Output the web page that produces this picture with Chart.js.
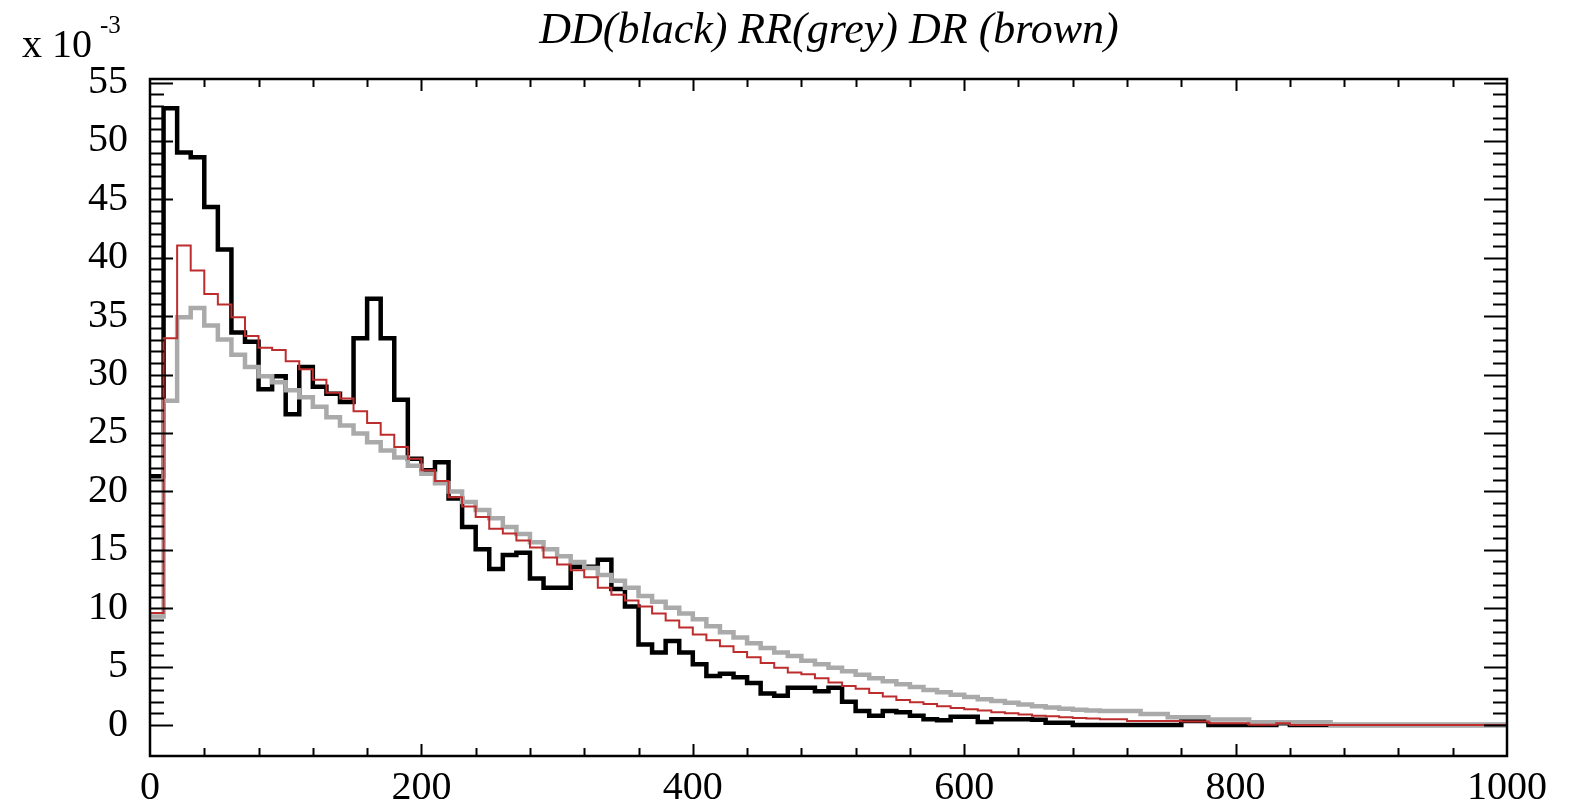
<!DOCTYPE html>
<html>
<head>
<meta charset="utf-8">
<title>DD RR DR</title>
<script src="https://cdn.jsdelivr.net/npm/chart.js@4.4.0/dist/chart.umd.min.js"></script>
<style>
    html, body { margin: 0; padding: 0; background: #ffffff; }
    #wrap { width: 1588px; height: 806px; }
</style>
</head>
<body>
<div id="wrap"><canvas id="histo" width="1588" height="806"></canvas></div>
<script>
// bin width and axis labels
const binWidth = 10;
const xTickVals = [0, 200, 400, 600, 800, 1000];
const yTickVals = [0, 5, 10, 15, 20, 25, 30, 35, 40, 45, 50, 55];

// DD (black), values in units of 10^-3, one per bin of width 10
const ddValues = [
    21.3, 52.8, 49.0, 48.6, 44.35, 40.7, 33.6, 32.8, 28.75, 29.85,
    26.6, 30.65, 28.95, 28.35, 27.65, 33.1, 36.5, 33.1, 27.85, 22.8,
    21.8, 22.5, 19.4, 16.95, 15.05, 13.35, 14.55, 14.75, 12.55, 11.75,
    11.75, 13.55, 13.55, 14.15, 11.65, 10.15, 6.9, 6.2, 7.2, 6.2,
    5.2, 4.2, 4.4, 4.1, 3.6, 2.7, 2.5, 3.2, 3.2, 2.9,
    3.2, 2.0, 1.2, 0.8, 1.2, 1.1, 0.8, 0.5, 0.4, 0.7,
    0.7, 0.25, 0.5, 0.5, 0.5, 0.45, 0.2, 0.2, 0, 0,
    0, 0, 0, 0, 0, 0, 0.35, 0.35, 0, 0,
    0, 0, 0, 0.15, 0, 0, 0, 0, 0, 0,
    0, 0, 0, 0, 0, 0, 0, 0, 0, 0
];
// RR (grey)
const rrValues = [
    9.3, 27.75, 34.9, 35.7, 34.2, 33.0, 31.7, 30.65, 29.85, 29.35,
    28.65, 28.05, 27.25, 26.35, 25.65, 24.95, 24.2, 23.5, 22.9, 22.2,
    21.5, 20.7, 20.0, 19.1, 18.4, 17.7, 16.95, 16.35, 15.65, 15.05,
    14.45, 13.95, 13.45, 12.85, 12.35, 11.75, 11.05, 10.55, 10.05, 9.55,
    9.05, 8.45, 7.95, 7.5, 7.0, 6.6, 6.2, 5.9, 5.5, 5.2,
    4.9, 4.6, 4.3, 4.0, 3.75, 3.5, 3.25, 3.0, 2.8, 2.6,
    2.4, 2.2, 2.05, 1.9, 1.75, 1.6, 1.5, 1.4, 1.3, 1.25,
    1.2, 1.2, 1.2, 0.95, 0.95, 0.67, 0.67, 0.67, 0.47, 0.47,
    0.47, 0.24, 0.24, 0.24, 0.24, 0.24, 0.24, 0, 0, 0,
    0, 0, 0, 0, 0, 0, 0, 0, 0, 0
];
// DR (brown)
const drValues = [
    9.6, 33.1, 41.05, 38.9, 36.9, 36.0, 34.9, 33.3, 32.3, 32.1,
    31.15, 30.45, 29.55, 28.45, 27.95, 26.85, 25.85, 24.85, 23.8, 22.8,
    21.8, 20.9, 19.5, 18.7, 17.8, 16.8, 16.4, 15.8, 15.2, 14.35,
    13.75, 13.25, 12.65, 11.75, 11.15, 10.65, 10.15, 9.55, 8.95, 8.35,
    7.75, 7.25, 6.75, 6.25, 5.8, 5.3, 4.9, 4.5, 4.35, 4.0,
    3.65, 3.35, 3.1, 2.75, 2.45, 2.15, 1.95, 1.8, 1.6, 1.45,
    1.35, 1.25, 1.1, 1.0, 0.9, 0.8, 0.75, 0.67, 0.6, 0.55,
    0.5, 0.5, 0.35, 0.35, 0.35, 0.35, 0.3, 0.3, 0.15, 0.15,
    0.15, 0.03, 0.03, 0.15, 0, 0, 0, 0, 0, 0,
    0, 0, 0, 0, 0, 0, 0, 0, 0, 0
];

const serif = '"Liberation Serif", "Times New Roman", serif';

// left edge of each bin + closing point so the last bin gets drawn
function toSteps(values) {
    const pts = values.map((v, i) => ({ x: i * binWidth, y: v }));
    pts.push({ x: values.length * binWidth, y: values[values.length - 1] });
    return pts;
}

// ROOT style frame, inside ticks, title and exponent
const rootFrame = {
    id: 'rootFrame',
    afterDatasetsDraw(chart) {
        const ctx = chart.ctx;
        const a = chart.chartArea;
        const xs = chart.scales.x, ys = chart.scales.y;
        ctx.save();
        ctx.strokeStyle = '#000';
        ctx.lineWidth = 2;
        ctx.beginPath();
        for (let v = 0; v <= 55; v++) {
            const y = Math.round(ys.getPixelForValue(v)) + 0.5;
            const len = v % 5 === 0 ? 23 : 14;
            ctx.moveTo(a.left, y); ctx.lineTo(a.left + len, y);
            ctx.moveTo(a.right, y); ctx.lineTo(a.right - len, y);
        }
        for (let v = 40; v < 1000; v += 40) {
            const x = Math.round(xs.getPixelForValue(v)) + 0.5;
            const len = v % 200 === 0 ? 12 : 8;
            ctx.moveTo(x, a.bottom); ctx.lineTo(x, a.bottom - len);
            ctx.moveTo(x, a.top); ctx.lineTo(x, a.top + len);
        }
        ctx.stroke();
        ctx.lineWidth = 2.5;
        ctx.strokeRect(a.left, a.top, a.right - a.left, a.bottom - a.top);

        ctx.fillStyle = '#000';
        ctx.textBaseline = 'alphabetic';
        ctx.textAlign = 'center';
        ctx.font = 'italic 44px ' + serif;
        ctx.fillText('DD(black) RR(grey) DR (brown)', 829, 43);
        ctx.textAlign = 'left';
        ctx.font = '40px ' + serif;
        ctx.fillText('x 10', 22, 57);
        ctx.font = '25px ' + serif;
        ctx.fillText('-3', 100, 33);
        ctx.restore();
    }
};

const ctx = document.getElementById('histo').getContext('2d');
const grafico = new Chart(ctx, {
    type: 'line',
    data: {
        datasets: [
            {
                label: 'DR',
                data: toSteps(drValues),
                borderColor: 'rgb(190, 45, 45)',
                borderWidth: 2
            },
            {
                label: 'RR',
                data: toSteps(rrValues),
                borderColor: 'rgb(170, 170, 170)',
                borderWidth: 4.5
            },
            {
                label: 'DD',
                data: toSteps(ddValues),
                borderColor: 'rgb(0, 0, 0)',
                borderWidth: 4.5
            }
        ]
    },
    options: {
        responsive: false,
        animation: false,
        devicePixelRatio: 1,
        layout: { padding: { top: 79, right: 81, left: 0, bottom: 0 } },
        datasets: {
            line: {
                stepped: 'before',
                pointRadius: 0,
                fill: false,
                borderJoinStyle: 'miter',
                borderCapStyle: 'butt'
            }
        },
        plugins: {
            legend: { display: false },
            tooltip: { enabled: false }
        },
        scales: {
            x: {
                type: 'linear',
                min: 0,
                max: 1000,
                afterBuildTicks: s => { s.ticks = xTickVals.map(v => ({ value: v })); },
                afterFit: s => { s.height = 50; },
                grid: { display: false, drawTicks: false },
                border: { display: false },
                ticks: {
                    padding: 8,
                    maxRotation: 0,
                    autoSkip: false,
                    color: '#000',
                    font: { family: serif, size: 40 },
                    callback: v => String(v)
                }
            },
            y: {
                type: 'linear',
                min: -2.65,
                max: 55.3,
                afterBuildTicks: s => { s.ticks = yTickVals.map(v => ({ value: v })); },
                afterFit: s => { s.width = 150; },
                grid: { display: false, drawTicks: false },
                border: { display: false },
                ticks: {
                    padding: 22,
                    autoSkip: false,
                    color: '#000',
                    font: { family: serif, size: 40 },
                    callback: v => String(v)
                }
            }
        }
    },
    plugins: [rootFrame]
});
</script>
</body>
</html>
